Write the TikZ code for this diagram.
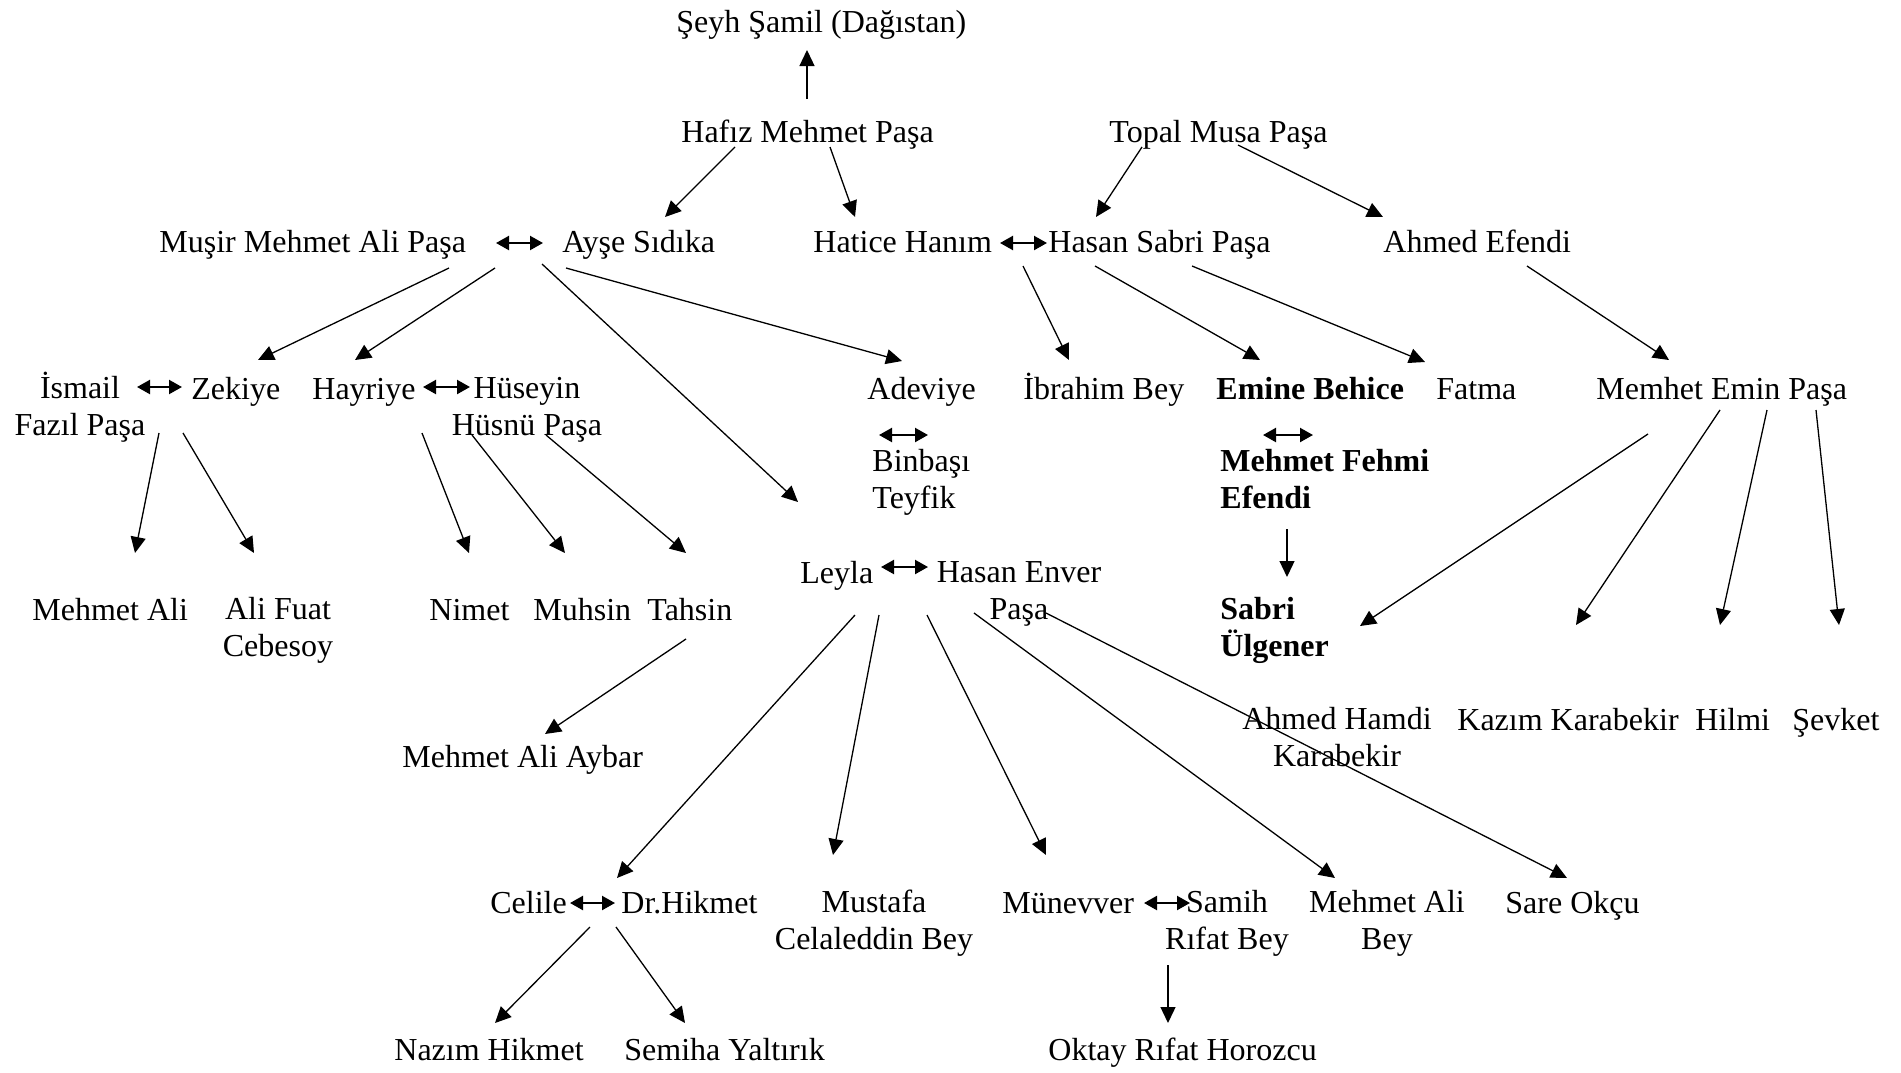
\documentclass[tikz,border=0pt]{standalone}
\usepackage{fontspec}
\setmainfont{Liberation Serif}
\usepackage{tikz}
\usetikzlibrary{calc}
\usetikzlibrary{arrows.meta}

\begin{document}
\begin{tikzpicture}[x=0.5pt,y=-0.5pt,
		every node/.style={anchor=base west,inner sep=0pt,font=\fontsize{16}{18.2}\selectfont},
		two/.style={anchor=base,align=center},
		twol/.style={align=left},
		kin/.style={-{Triangle[length=8pt,width=7.5pt]},line width=0.65pt},
		wed/.style={{Triangle[length=6.5pt,width=7pt]}-{Triangle[length=6.5pt,width=7pt]},line width=1.1pt}]
				\useasboundingbox (0,0) rectangle (1901,1072);
				\node (seyh) at (676,32) {Şeyh Şamil (Dağıstan)};
				\node (hafiz) at (681,142) {Hafız Mehmet Paşa};
				\node (topal) at (1109,142) {Topal Musa Paşa};
				\node (musir) at (159,252) {Muşir Mehmet Ali Paşa};
				\node (ayse) at (562,252) {Ayşe Sıdıka};
				\node (hatice) at (813,252) {Hatice Hanım};
				\node (hsabri) at (1048,252) {Hasan Sabri Paşa};
				\node (ahmed) at (1383,252) {Ahmed Efendi};
				\node[two] (ismail) at (80,435) {İsmail\\Fazıl Paşa};
				\node (zekiye) at (191,399) {Zekiye};
				\node (hayriye) at (312,399) {Hayriye};
				\node[two] (huseyin) at (527,435) {Hüseyin\\Hüsnü Paşa};
				\node (adeviye) at (867,399) {Adeviye};
				\node[twol] (binbasi) at (872,508) {Binbaşı\\Teyfik};
				\node (ibrahim) at (1023,399) {İbrahim Bey};
				\node[font=\fontsize{16}{18.2}\selectfont\bfseries] (emine) at (1216,399) {Emine Behice};
				\node[twol,font=\fontsize{16}{18.2}\selectfont\bfseries] (fehmi) at (1220,508) {Mehmet Fehmi\\Efendi};
				\node (fatma) at (1436,399) {Fatma};
				\node (memhet) at (1596,399) {Memhet Emin Paşa};
				\node (leyla) at (800,583) {Leyla};
				\node[two] (enver) at (1019,619) {Hasan Enver\\Paşa};
				\node (mali) at (32,620) {Mehmet Ali};
				\node[two] (fuat) at (278,656) {Ali Fuat\\Cebesoy};
				\node (nimet) at (429,620) {Nimet};
				\node (muhsin) at (533,620) {Muhsin};
				\node (tahsin) at (647,620) {Tahsin};
				\node[twol,font=\fontsize{16}{18.2}\selectfont\bfseries] (sabri) at (1220,656) {Sabri\\Ülgener};
				\node (aybar) at (402,767) {Mehmet Ali Aybar};
				\node[two] (hamdi) at (1337,766) {Ahmed Hamdi\\Karabekir};
				\node (kazim) at (1457,730) {Kazım Karabekir};
				\node (hilmi) at (1695,730) {Hilmi};
				\node (sevket) at (1792,730) {Şevket};
				\node (celile) at (490,913) {Celile};
				\node (hikmet) at (621,913) {Dr.Hikmet};
				\node[two] (mustafa) at (874,949) {Mustafa\\Celaleddin Bey};
				\node (munevver) at (1002,913) {Münevver};
				\node[two] (samih) at (1227,949) {Samih\\Rıfat Bey};
				\node[two] (malibey) at (1387,949) {Mehmet Ali\\Bey};
				\node (sare) at (1505,913) {Sare Okçu};
				\node (nazim) at (394,1060) {Nazım Hikmet};
				\node (semiha) at (624,1060) {Semiha Yaltırık};
				\node (oktay) at (1048,1060) {Oktay Rıfat Horozcu};
				\draw[wed] ($(musir.base west)+(337,-9)$) -- ($(ayse.base west)+(-19,-9)$);
				\draw[wed] ($(hatice.base west)+(187,-9)$) -- ($(hsabri.base west)+(-1,-9)$);
				\draw[wed] ($(ismail.base)+(57,-48)$) -- ($(zekiye.base west)+(-9,-12)$);
				\draw[wed] ($(hayriye.base west)+(111,-12)$) -- ($(huseyin.base)+(-57,-48)$);
				\draw[wed] ($(adeviye.base west)+(12,36)$) -- ($(binbasi.base west)+(56,-73)$);
				\draw[wed] ($(emine.base west)+(47,36)$) -- ($(fehmi.base west)+(93,-73)$);
				\draw[wed] ($(leyla.base west)+(81,-16)$) -- ($(enver.base)+(-91,-52)$);
				\draw[wed] ($(celile.base west)+(80,-10)$) -- ($(hikmet.base west)+(-6,-10)$);
				\draw[wed] ($(munevver.base west)+(142,-10)$) -- ($(samih.base)+(-37,-46)$);
				\draw[kin] ($(hafiz.base west)+(126,-43)$) -- ($(seyh.base west)+(131,18)$);
				\draw[kin] ($(hafiz.base west)+(54,5)$) -- ($(ayse.base west)+(103,-35)$);
				\draw[kin] ($(hafiz.base west)+(149,5)$) -- ($(hatice.base west)+(42,-35)$);
				\draw[kin] ($(topal.base west)+(33,5)$) -- ($(hsabri.base west)+(48,-35)$);
				\draw[kin] ($(topal.base west)+(129,3)$) -- ($(ahmed.base west)+(0,-35)$);
				\draw[kin] ($(musir.base west)+(290,16)$) -- ($(zekiye.base west)+(67,-39)$);
				\draw[kin] ($(musir.base west)+(336,16)$) -- ($(hayriye.base west)+(43,-39)$);
				\draw[kin] ($(ayse.base west)+(-20,12)$) -- ($(leyla.base west)+(-2,-81)$);
				\draw[kin] ($(ayse.base west)+(4,16)$) -- ($(adeviye.base west)+(35,-38)$);
				\draw[kin] ($(hatice.base west)+(210,14)$) -- ($(ibrahim.base west)+(46,-39)$);
				\draw[kin] ($(hsabri.base west)+(47,14)$) -- ($(emine.base west)+(44,-39)$);
				\draw[kin] ($(hsabri.base west)+(144,14)$) -- ($(fatma.base west)+(-11,-37)$);
				\draw[kin] ($(ahmed.base west)+(144,14)$) -- ($(memhet.base west)+(73,-39)$);
				\draw[kin] ($(ismail.base)+(79,-2)$) -- ($(mali.base west)+(103,-67)$);
				\draw[kin] ($(ismail.base)+(103,-2)$) -- ($(fuat.base)+(-24,-103)$);
				\draw[kin] ($(huseyin.base)+(-105,-2)$) -- ($(nimet.base west)+(40,-67)$);
				\draw[kin] ($(huseyin.base)+(-55,0)$) -- ($(muhsin.base west)+(32,-67)$);
				\draw[kin] ($(huseyin.base)+(19,0)$) -- ($(tahsin.base west)+(39,-67)$);
				\draw[kin] ($(tahsin.base west)+(39,19)$) -- ($(aybar.base west)+(143,-33)$);
				\draw[kin] ($(fehmi.base west)+(67,21)$) -- ($(sabri.base west)+(67,-79)$);
				\draw[kin] ($(memhet.base west)+(52,35)$) -- ($(sabri.base west)+(140,-30)$);
				\draw[kin] ($(memhet.base west)+(124,11)$) -- ($(kazim.base west)+(119,-105)$);
				\draw[kin] ($(memhet.base west)+(171,11)$) -- ($(hilmi.base west)+(25,-105)$);
				\draw[kin] ($(memhet.base west)+(220,11)$) -- ($(sevket.base west)+(47,-105)$);
				\draw[kin] ($(leyla.base west)+(55,32)$) -- ($(celile.base west)+(127,-35)$);
				\draw[kin] ($(leyla.base west)+(79,32)$) -- ($(mustafa.base)+(-41,-94)$);
				\draw[kin] ($(enver.base)+(-92,-4)$) -- ($(munevver.base west)+(44,-58)$);
				\draw[kin] ($(enver.base)+(-45,-6)$) -- ($(malibey.base)+(-52,-71)$);
				\draw[kin] ($(enver.base)+(27,-6)$) -- ($(sare.base west)+(62,-35)$);
				\draw[kin] ($(celile.base west)+(100,14)$) -- ($(nazim.base west)+(101,-37)$);
				\draw[kin] ($(hikmet.base west)+(-5,14)$) -- ($(semiha.base west)+(61,-37)$);
				\draw[kin] ($(samih.base)+(-59,16)$) -- ($(oktay.base west)+(120,-37)$);
			\end{tikzpicture}
\end{document}
